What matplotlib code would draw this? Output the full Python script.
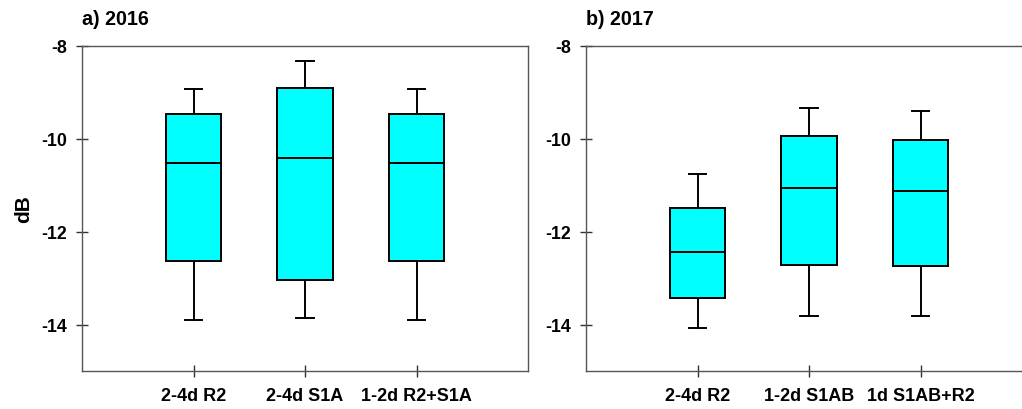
import matplotlib
matplotlib.use("Agg")
import matplotlib.pyplot as plt

plt.rcParams['font.family'] = ['Liberation Sans', 'DejaVu Sans']
plt.rcParams['font.weight'] = 'bold'

# Box statistics (dB): lower whisker, Q1, median, Q3, upper whisker
labels_2016 = ["2-4d R2", "2-4d S1A", "1-2d R2+S1A"]
whislo_2016 = [-13.91, -13.86, -13.91]
q1_2016 = [-12.64, -13.04, -12.64]
med_2016 = [-10.52, -10.42, -10.52]
q3_2016 = [-9.47, -8.90, -9.47]
whishi_2016 = [-8.92, -8.32, -8.92]

labels_2017 = ["2-4d R2", "1-2d S1AB", "1d S1AB+R2"]
whislo_2017 = [-14.08, -13.81, -13.82]
q1_2017 = [-13.43, -12.72, -12.74]
med_2017 = [-12.43, -11.06, -11.13]
q3_2017 = [-11.49, -9.94, -10.02]
whishi_2017 = [-10.75, -9.34, -9.41]

yticks = [-14, -12, -10, -8]


def make_stats(labels, lo, q1, med, q3, hi):
    return [dict(label=l, whislo=a, q1=b, med=c, q3=d, whishi=e, fliers=[])
            for l, a, b, c, d, e in zip(labels, lo, q1, med, q3, hi)]


fig = plt.figure(figsize=(10.22, 4.10), dpi=100)
W, H = 1022, 410
ax1 = fig.add_axes([82 / W, (H - 372) / H, 446 / W, 325 / H])
ax2 = fig.add_axes([586 / W, (H - 372) / H, 446 / W, 325 / H])

panels = [
    (ax1, "a) 2016", make_stats(labels_2016, whislo_2016, q1_2016, med_2016, q3_2016, whishi_2016)),
    (ax2, "b) 2017", make_stats(labels_2017, whislo_2017, q1_2017, med_2017, q3_2017, whishi_2017)),
]

for ax, title, stats in panels:
    ax.bxp(stats, positions=[1, 2, 3], widths=0.5, patch_artist=True,
           showfliers=False,
           boxprops=dict(facecolor='#00FFFF', edgecolor='black', linewidth=1.4),
           medianprops=dict(color='black', linewidth=1.4),
           whiskerprops=dict(color='black', linewidth=1.4),
           capprops=dict(color='black', linewidth=1.4),
           capwidths=0.16)
    ax.set_xlim(0, 4)
    ax.set_ylim(-15, -8)
    ax.set_yticks(yticks)
    ax.set_yticklabels([str(t) for t in yticks])
    for sp in ax.spines.values():
        sp.set_color('#555555')
        sp.set_linewidth(1.0)
    ax.tick_params(axis='both', direction='inout', length=9, width=1.0,
                   color='#333333')
    ax.tick_params(axis='y', pad=6, labelsize=12.8)
    ax.tick_params(axis='x', pad=7, labelsize=13)
    for lab in ax.get_xticklabels() + ax.get_yticklabels():
        lab.set_fontweight('bold')
    ax.set_title(title, loc='left', fontsize=14.2, fontweight='bold', pad=15.5, x=0.0)

ax1.set_ylabel("dB", fontsize=15, fontweight='bold', labelpad=6)

fig.savefig("out.png", dpi=100)
